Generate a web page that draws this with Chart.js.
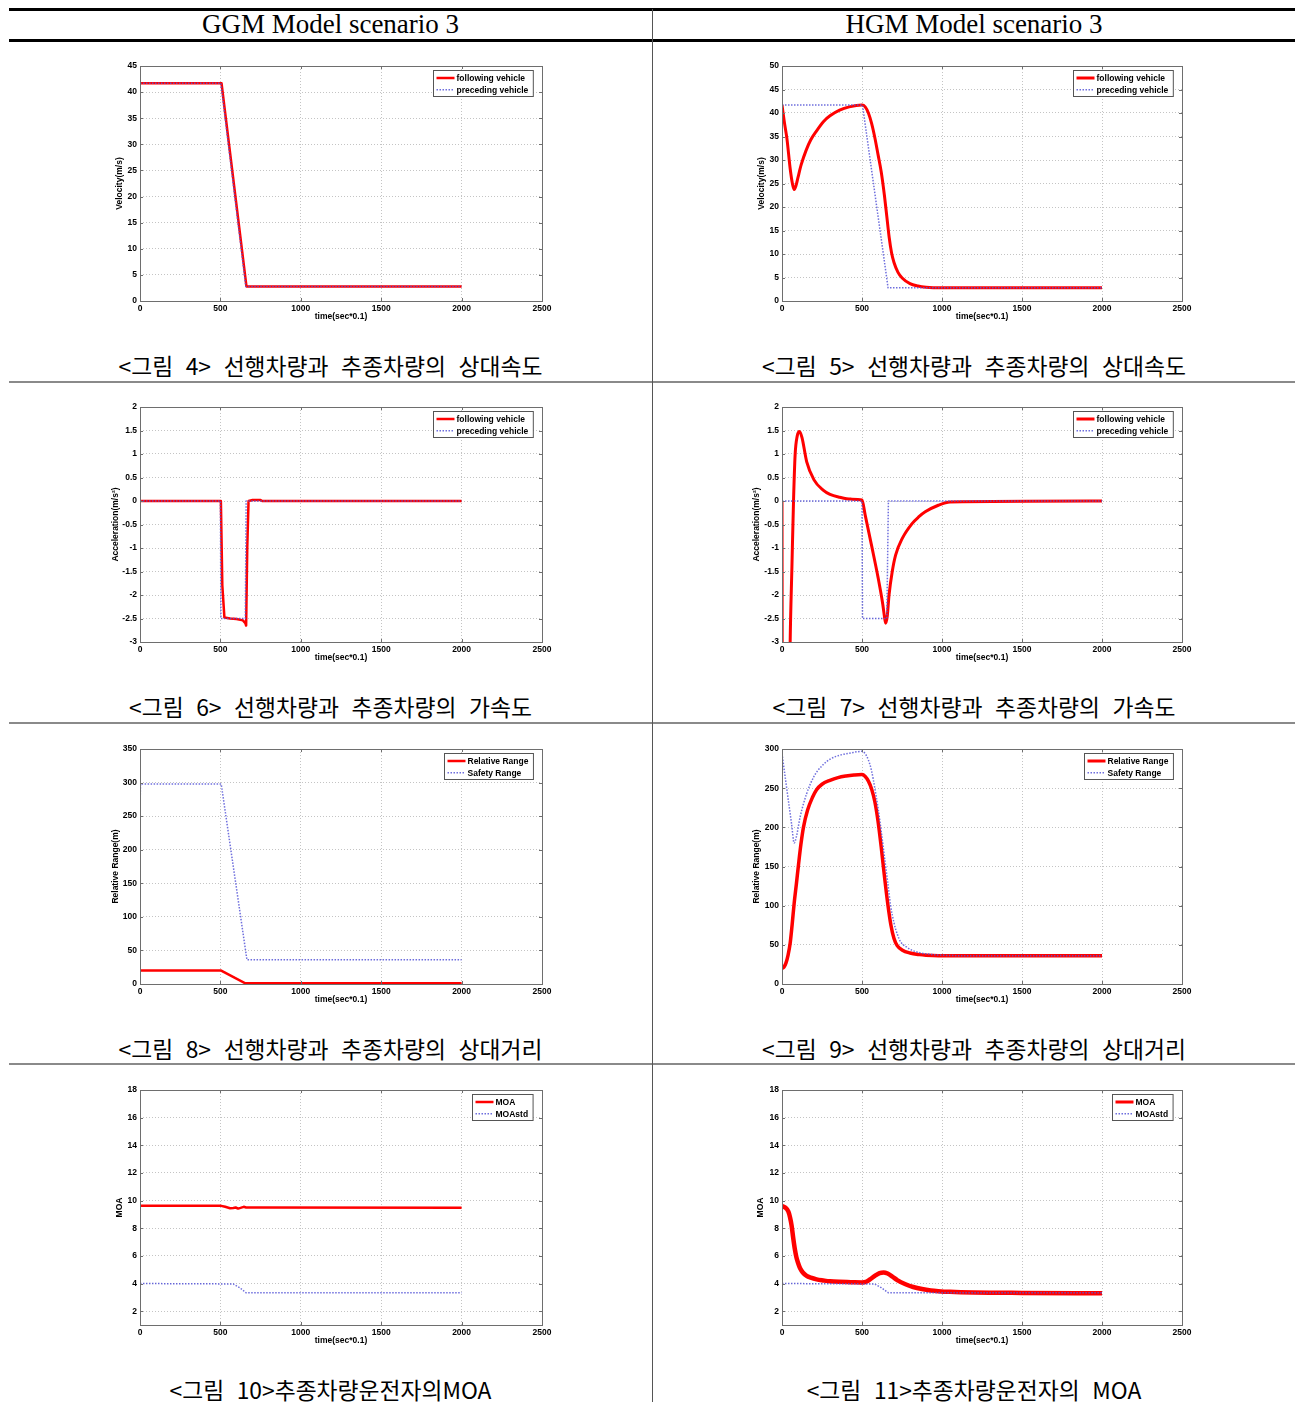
<!DOCTYPE html>
<html>
<head>
<meta charset="utf-8">
<script src="https://cdn.jsdelivr.net/npm/chart.js@4.4.1/dist/chart.umd.min.js"></script>
<style>
  html, body { margin: 0; padding: 0; background: #fff; }
  body { position: relative; width: 1297px; height: 1402px; overflow: hidden; }
  .rule { position: absolute; }
  .head { position: absolute; top: 8px; height: 32px; line-height: 33px; text-align: center;
          font-family: "Liberation Serif", "DejaVu Serif", serif; font-size: 27px; color: #000; }
  .cap { position: absolute; height: 30px; line-height: 30px; text-align: center; white-space: nowrap;
         font-family: "Noto Sans CJK KR", sans-serif; font-size: 22.8px; word-spacing: 7.5px; color: #000; }
  canvas { position: absolute; }
</style>
</head>
<body>
<!-- table rules -->
<div class="rule" style="left:9px; top:8px; width:1286px; height:2.5px; background:#000;"></div>
<div class="rule" style="left:9px; top:39px; width:1286px; height:3px; background:#000;"></div>
<div class="rule" style="left:9px; top:381px; width:1286px; height:2px; background:#8a8a8a;"></div>
<div class="rule" style="left:9px; top:722px; width:1286px; height:2px; background:#8a8a8a;"></div>
<div class="rule" style="left:9px; top:1063px; width:1286px; height:2px; background:#8a8a8a;"></div>
<div class="rule" style="left:652px; top:9px; width:1px; height:1393px; background:#555;"></div>

<div class="head" style="left:9px; width:643px;">GGM Model scenario 3</div>
<div class="head" style="left:653px; width:642px;">HGM Model scenario 3</div>

<canvas id="c4" width="460" height="267" style="left:100px; top:55px;"></canvas>
<canvas id="c5" width="460" height="267" style="left:742px; top:55px;"></canvas>
<canvas id="c6" width="460" height="267" style="left:100px; top:396px;"></canvas>
<canvas id="c7" width="460" height="267" style="left:742px; top:396px;"></canvas>
<canvas id="c8" width="460" height="267" style="left:100px; top:738px;"></canvas>
<canvas id="c9" width="460" height="267" style="left:742px; top:738px;"></canvas>
<canvas id="c10" width="460" height="267" style="left:100px; top:1079px;"></canvas>
<canvas id="c11" width="460" height="267" style="left:742px; top:1079px;"></canvas>

<div class="cap" style="left:9px; width:643px; top:351px;">&lt;그림 4&gt; 선행차량과 추종차량의 상대속도</div>
<div class="cap" style="left:653px; width:642px; top:351px;">&lt;그림 5&gt; 선행차량과 추종차량의 상대속도</div>
<div class="cap" style="left:9px; width:643px; top:692px;">&lt;그림 6&gt; 선행차량과 추종차량의 가속도</div>
<div class="cap" style="left:653px; width:642px; top:692px;">&lt;그림 7&gt; 선행차량과 추종차량의 가속도</div>
<div class="cap" style="left:9px; width:643px; top:1034px;">&lt;그림 8&gt; 선행차량과 추종차량의 상대거리</div>
<div class="cap" style="left:653px; width:642px; top:1034px;">&lt;그림 9&gt; 선행차량과 추종차량의 상대거리</div>
<div class="cap" style="left:9px; width:643px; top:1375px;">&lt;그림 10&gt;추종차량운전자의MOA</div>
<div class="cap" style="left:653px; width:642px; top:1375px;">&lt;그림 11&gt;추종차량운전자의 MOA</div>

<script>
// ---- shared axis ----
const timeTicks = [0, 500, 1000, 1500, 2000, 2500];
const moaTicks = [2, 4, 6, 8, 10, 12, 14, 16, 18];

// ---- GGM velocity (m/s) ----
const ggmVelFollowT = [0, 507, 662, 2000];
const ggmVelFollow  = [41.7, 41.7, 2.8, 2.8];
const ggmVelPrecT   = [0, 503, 658, 2000];
const ggmVelPrec    = [41.7, 41.7, 2.8, 2.8];

// ---- HGM velocity (m/s) ----
const hgmVelFollowT = [0, 15, 31, 51, 65, 76, 88, 100, 120, 150, 180, 216, 260, 300, 360, 420, 500, 520, 540, 560, 580, 600, 620, 640, 655, 670, 685, 700, 725, 751, 800, 850, 900, 1000, 2000];
const hgmVelFollow  = [41.7, 38, 34.5, 28.2, 25, 23.7, 24.6, 26.3, 29.0, 32.0, 34.3, 36.2, 38.2, 39.4, 40.6, 41.3, 41.7, 41.3, 40.0, 37.8, 34.8, 31.2, 27.5, 22.5, 18, 13.5, 10.2, 8.2, 6.1, 4.9, 3.7, 3.2, 2.95, 2.82, 2.8];
const hgmVelPrecT   = [0, 503, 663, 2000];
const hgmVelPrec    = [41.7, 41.7, 2.8, 2.8];

// ---- GGM acceleration (m/s^2) ----
const ggmAccFollowT = [0, 503, 512, 525, 560, 600, 640, 655, 660, 667, 675, 700, 750, 760, 2000];
const ggmAccFollow  = [0, 0, -1.8, -2.48, -2.5, -2.51, -2.54, -2.6, -2.65, -1.0, 0.0, 0.02, 0.02, 0, 0];
const ggmAccPrecT   = [0, 500, 503, 655, 660, 2000];
const ggmAccPrec    = [0, 0, -2.5, -2.5, 0, 0];

// ---- HGM acceleration (m/s^2) ----
const hgmAccFollowT = [0, 3, 40, 51, 62, 72, 82, 95, 109, 125, 154, 200, 257, 300, 360, 430, 500, 520, 560, 600, 630, 642, 648, 658, 669, 689, 710, 751, 813, 854, 895, 977, 1050, 2000];
const hgmAccFollow  = [0, -6, -6, -3, -1.4, 0, 0.98, 1.38, 1.48, 1.35, 0.84, 0.45, 0.23, 0.14, 0.08, 0.04, 0.02, -0.3, -0.95, -1.62, -2.2, -2.5, -2.6, -2.45, -2.0, -1.5, -1.15, -0.8, -0.48, -0.34, -0.23, -0.09, -0.02, 0];
const hgmAccPrecT   = [0, 500, 503, 655, 665, 2000];
const hgmAccPrec    = [0, 0, -2.5, -2.5, 0, 0];

// ---- GGM range (m) ----
const ggmRelT    = [0, 505, 655, 2000];
const ggmRel     = [20, 20, 1, 1];
const ggmSafeT   = [0, 3, 505, 665, 2000];
const ggmSafe    = [255, 298, 298, 36, 36];

// ---- HGM range (m) ----
const hgmRelT    = [0, 12, 25, 38, 51, 63, 76, 90, 103, 118, 134, 160, 190, 216, 250, 300, 350, 400, 450, 500, 520, 540, 560, 580, 600, 620, 640, 660, 680, 700, 720, 750, 800, 860, 900, 977, 2000];
const hgmRel     = [20, 21.5, 27, 37, 52, 75, 103, 128, 152, 178, 200, 222, 238, 248, 255, 260, 263.5, 265.5, 266.8, 267.5, 265, 259, 249, 233, 208, 175, 138, 104, 76, 58, 49, 43.5, 39.5, 37.5, 36.8, 36.2, 36];
const hgmSafeT   = [0, 20, 40, 60, 76, 90, 113, 154, 200, 257, 300, 360, 430, 500, 520, 540, 560, 580, 600, 617, 640, 660, 679, 700, 720, 741, 780, 813, 860, 900, 977, 1100, 2000];
const hgmSafe    = [294, 264, 234, 204, 180, 188, 213, 243, 265, 280, 287, 292, 295, 297, 294, 286, 272, 250, 225, 200, 163, 131, 100, 78, 64, 54, 47, 43, 40, 38.5, 37, 36.2, 36];

// ---- GGM MOA ----
const ggmMoaT    = [0, 505, 530, 560, 580, 595, 610, 625, 645, 660, 680, 740, 2000];
const ggmMoa     = [9.62, 9.62, 9.55, 9.45, 9.47, 9.5, 9.42, 9.47, 9.55, 9.5, 9.5, 9.5, 9.48];
const ggmMoaStdT = [0, 580, 620, 660, 2000];
const ggmMoaStd  = [4.0, 3.97, 3.7, 3.33, 3.33];

// ---- HGM MOA ----
const hgmMoaT    = [0, 20, 40, 50, 60, 70, 80, 90, 100, 113, 130, 154, 180, 216, 260, 300, 360, 430, 500, 525, 550, 580, 610, 635, 660, 690, 720, 772, 820, 875, 930, 977, 1050, 1200, 1500, 2000];
const hgmMoa     = [9.6, 9.5, 9.2, 8.8, 8.2, 7.3, 6.5, 5.9, 5.5, 5.1, 4.8, 4.55, 4.42, 4.3, 4.22, 4.16, 4.12, 4.1, 4.08, 4.12, 4.3, 4.55, 4.75, 4.8, 4.72, 4.5, 4.25, 3.95, 3.75, 3.6, 3.5, 3.45, 3.4, 3.35, 3.32, 3.3];
const hgmMoaStdT = [0, 580, 620, 665, 2000];
const hgmMoaStd  = [4.0, 3.97, 3.7, 3.33, 3.33];

// ---- styling ----
const RED = '#ff0000';
const BLUE = 'rgba(85, 85, 215, 0.85)';
const DOT = [1.5, 1.5];
const TICK_FONT = { family: 'Liberation Sans, Arial, sans-serif', size: 8.5, weight: 'bold' };

const num = v => String(Number(Number(v).toFixed(2)));

// axes box with inward tick marks, drawn over the dotted grid
const axesBox = {
  id: 'axesBox',
  afterDatasetsDraw(chart) {
    const { ctx, chartArea: a, scales: { x, y } } = chart;
    ctx.save();
    ctx.strokeStyle = '#6e6e6e';
    ctx.lineWidth = 1;
    ctx.setLineDash([]);
    ctx.strokeRect(Math.round(a.left) + 0.5, Math.round(a.top) + 0.5,
                   Math.round(a.right - a.left), Math.round(a.bottom - a.top));
    ctx.beginPath();
    const L = 3;
    x.ticks.forEach(t => {
      const px = Math.round(x.getPixelForValue(t.value)) + 0.5;
      ctx.moveTo(px, a.bottom); ctx.lineTo(px, a.bottom - L);
      ctx.moveTo(px, a.top); ctx.lineTo(px, a.top + L);
    });
    y.ticks.forEach(t => {
      const py = Math.round(y.getPixelForValue(t.value)) + 0.5;
      ctx.moveTo(a.left, py); ctx.lineTo(a.left + L, py);
      ctx.moveTo(a.right, py); ctx.lineTo(a.right - L, py);
    });
    ctx.stroke();
    ctx.restore();
  }
};

// boxed legend in the upper right corner of the plot
const boxLegend = {
  id: 'boxLegend',
  afterDraw(chart) {
    const { ctx, chartArea: a } = chart;
    const items = chart.data.datasets;
    ctx.save();
    ctx.font = 'bold 8.5px "Liberation Sans", Arial, sans-serif';
    const tw = Math.max(...items.map(d => ctx.measureText(d.label).width));
    const lineLen = 18, padL = 3, gap = 2, padR = 5;
    const w = padL + lineLen + gap + tw + padR;
    const h = 26;
    const bx = Math.round(a.right - 9 - w) + 0.5;
    const by = Math.round(a.top + 4) + 0.5;
    ctx.fillStyle = '#fff';
    ctx.fillRect(bx, by, w, h);
    ctx.strokeStyle = '#555';
    ctx.lineWidth = 1;
    ctx.setLineDash([]);
    ctx.strokeRect(bx, by, w, h);
    items.forEach((d, i) => {
      const yy = by + 7.5 + i * 11.8;
      ctx.beginPath();
      ctx.strokeStyle = d.borderColor;
      ctx.lineWidth = Math.min(d.borderWidth, 3);
      ctx.setLineDash(d.borderDash || []);
      ctx.moveTo(bx + padL, yy);
      ctx.lineTo(bx + padL + lineLen, yy);
      ctx.stroke();
      ctx.setLineDash([]);
      ctx.fillStyle = '#000';
      ctx.textBaseline = 'middle';
      ctx.fillText(d.label, bx + padL + lineLen + gap, yy + 0.5);
    });
    ctx.restore();
  }
};

function series(label, t, v, style) {
  return Object.assign({
    label,
    data: t.map((tt, i) => ({ x: tt, y: v[i] })),
    pointRadius: 0,
    fill: false,
    tension: 0,
    borderJoinStyle: 'round'
  }, style);
}

function solid(width, smooth) {
  return { borderColor: RED, borderWidth: width, order: 1,
           cubicInterpolationMode: smooth ? 'monotone' : 'default', tension: smooth ? 0.4 : 0 };
}
function dotted(smooth) {
  return { borderColor: BLUE, borderWidth: 1.5, borderDash: DOT, order: 0,
           cubicInterpolationMode: smooth ? 'monotone' : 'default', tension: smooth ? 0.4 : 0 };
}

function plot(id, datasets, y) {
  const right = id === 'c5' || id === 'c7' || id === 'c9' || id === 'c11';
  new Chart(document.getElementById(id), {
    type: 'line',
    data: { datasets },
    options: {
      responsive: false,
      animation: false,
      events: [],
      layout: { padding: { top: 11, right: right ? 20 : 18, left: 0, bottom: 0 } },
      plugins: { legend: { display: false }, tooltip: { enabled: false } },
      scales: {
        x: {
          type: 'linear', min: 0, max: 2500,
          afterBuildTicks: s => { s.ticks = timeTicks.map(v => ({ value: v })); },
          afterFit: s => { s.height = 21; },
          ticks: { font: TICK_FONT, color: '#000', padding: 3, maxRotation: 0, autoSkip: false, callback: num },
          grid: { color: '#c4c4c4', lineWidth: 1, drawTicks: false },
          border: { display: false, dash: [1, 2] },
          title: { display: true, text: 'time(sec*0.1)', font: TICK_FONT, color: '#000', padding: { top: 0, bottom: 0 } }
        },
        y: {
          min: y.min, max: y.max,
          afterBuildTicks: s => { s.ticks = y.ticks.map(v => ({ value: v })); },
          afterFit: s => { s.width = 40; },
          ticks: { font: TICK_FONT, color: '#000', padding: 3, autoSkip: false, callback: num },
          grid: { color: '#c4c4c4', lineWidth: 1, drawTicks: false },
          border: { display: false, dash: [1, 2] },
          title: { display: true, text: y.title, font: TICK_FONT, color: '#000', padding: { top: y.titleGap, bottom: 0 } }
        }
      }
    },
    plugins: [axesBox, boxLegend]
  });
}

const range = (a, b, s) => { const r = []; for (let v = a; v <= b + 1e-9; v += s) r.push(Number(v.toFixed(2))); return r; };

plot('c4', [
  series('following vehicle', ggmVelFollowT, ggmVelFollow, solid(2.5, false)),
  series('preceding vehicle', ggmVelPrecT, ggmVelPrec, dotted(false))
], { min: 0, max: 45, ticks: range(0, 45, 5), title: 'Velocity(m/s)', titleGap: 15 });

plot('c5', [
  series('following vehicle', hgmVelFollowT, hgmVelFollow, solid(3, true)),
  series('preceding vehicle', hgmVelPrecT, hgmVelPrec, dotted(false))
], { min: 0, max: 50, ticks: range(0, 50, 5), title: 'Velocity(m/s)', titleGap: 15 });

plot('c6', [
  series('following vehicle', ggmAccFollowT, ggmAccFollow, solid(2.5, false)),
  series('preceding vehicle', ggmAccPrecT, ggmAccPrec, dotted(false))
], { min: -3, max: 2, ticks: range(-3, 2, 0.5), title: 'Acceleration(m/s²)', titleGap: 11 });

plot('c7', [
  series('following vehicle', hgmAccFollowT, hgmAccFollow, solid(3, true)),
  series('preceding vehicle', hgmAccPrecT, hgmAccPrec, dotted(false))
], { min: -3, max: 2, ticks: range(-3, 2, 0.5), title: 'Acceleration(m/s²)', titleGap: 10 });

plot('c8', [
  series('Relative Range', ggmRelT, ggmRel, solid(2.5, false)),
  series('Safety Range', ggmSafeT, ggmSafe, dotted(false))
], { min: 0, max: 350, ticks: range(0, 350, 50), title: 'Relative Range(m)', titleGap: 11 });

plot('c9', [
  series('Relative Range', hgmRelT, hgmRel, solid(3.5, true)),
  series('Safety Range', hgmSafeT, hgmSafe, dotted(true))
], { min: 0, max: 300, ticks: range(0, 300, 50), title: 'Relative Range(m)', titleGap: 10 });

plot('c10', [
  series('MOA', ggmMoaT, ggmMoa, solid(2.5, false)),
  series('MOAstd', ggmMoaStdT, ggmMoaStd, dotted(false))
], { min: 1, max: 18, ticks: moaTicks, title: 'MOA', titleGap: 15 });

plot('c11', [
  series('MOA', hgmMoaT, hgmMoa, solid(4.5, true)),
  series('MOAstd', hgmMoaStdT, hgmMoaStd, dotted(false))
], { min: 1, max: 18, ticks: moaTicks, title: 'MOA', titleGap: 14 });
</script>
</body>
</html>
